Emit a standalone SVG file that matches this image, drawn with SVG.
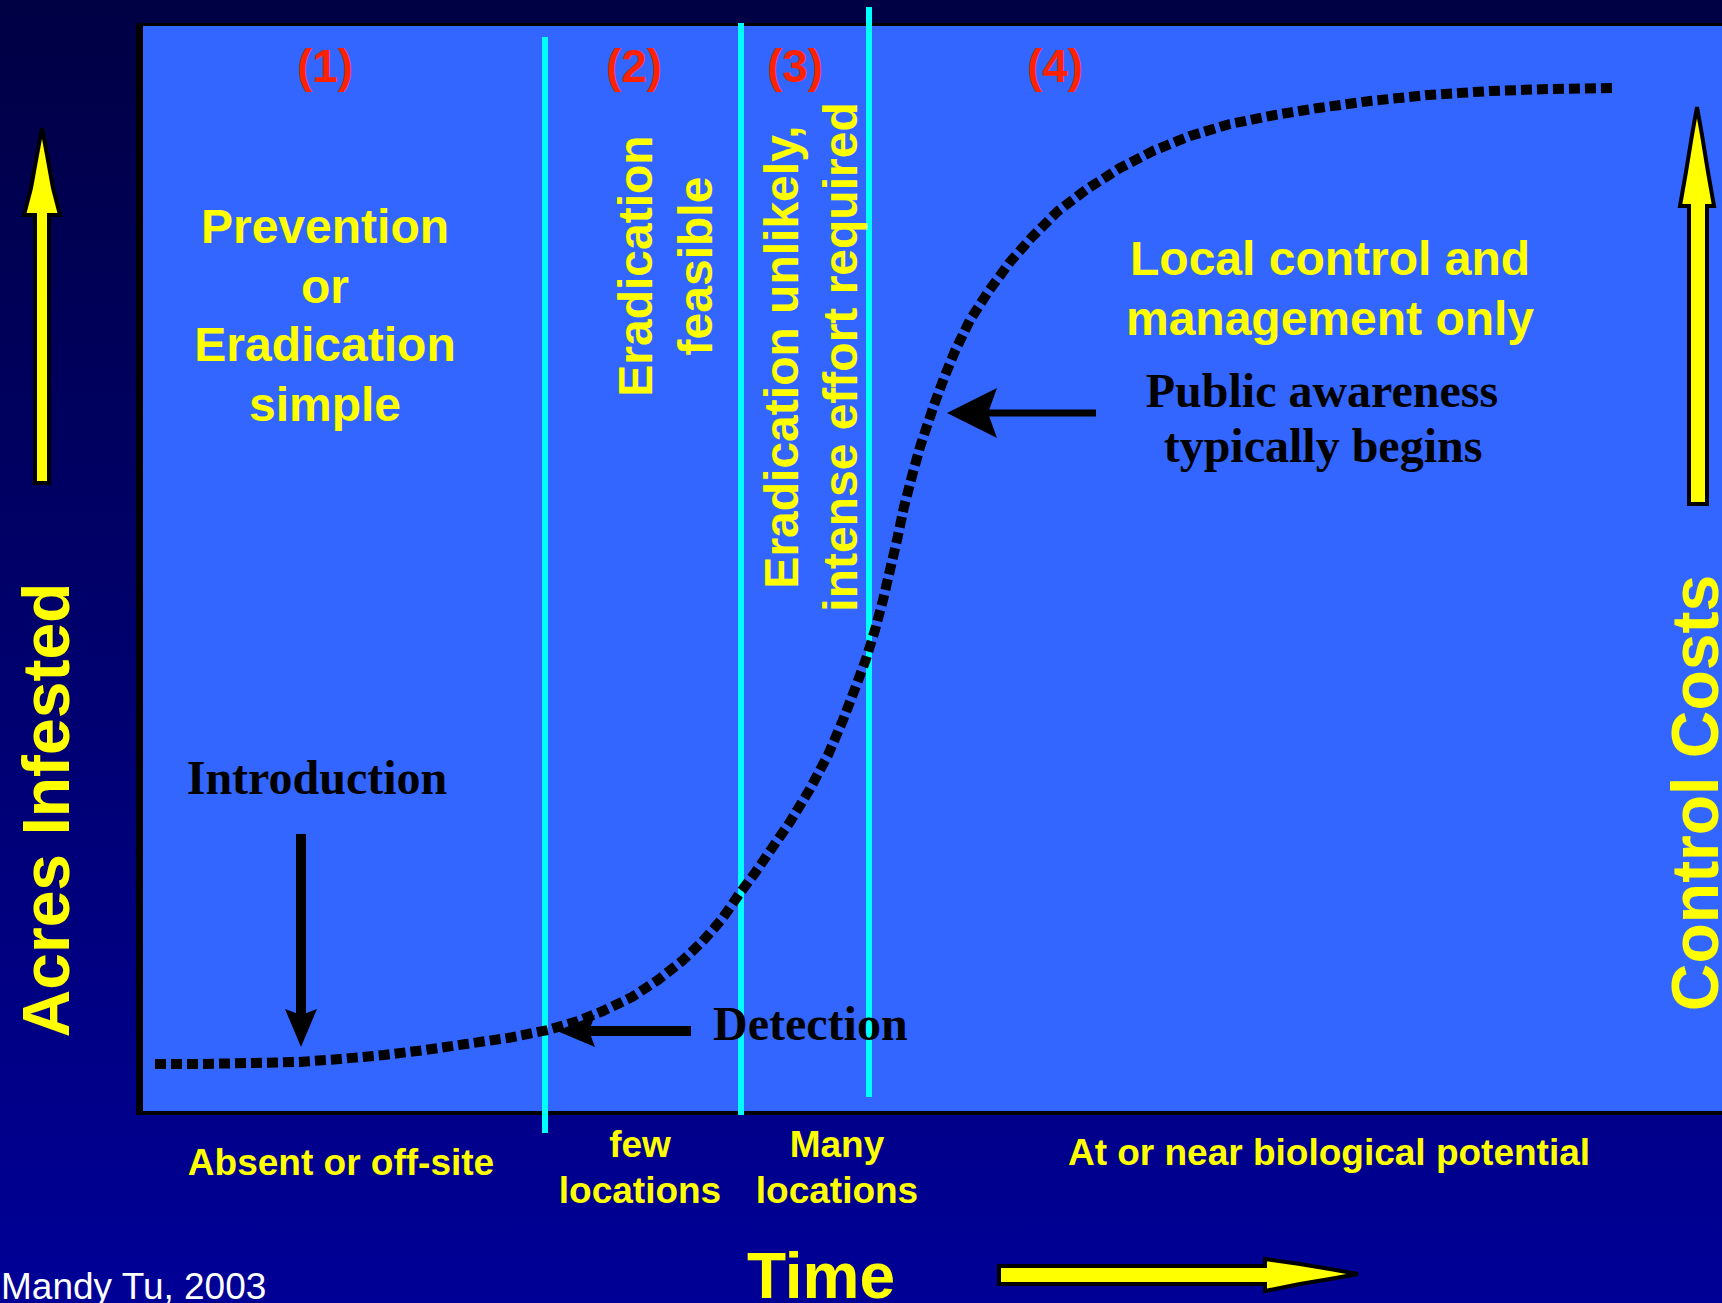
<svg xmlns="http://www.w3.org/2000/svg" width="1722" height="1303" viewBox="0 0 1722 1303">
<defs>
<linearGradient id="bg" x1="0" y1="0" x2="0" y2="1">
<stop offset="0" stop-color="#000044"/>
<stop offset="1" stop-color="#000096"/>
</linearGradient>
<marker id="ah" markerUnits="userSpaceOnUse" viewBox="0 0 38 32" markerWidth="38" markerHeight="32" refX="6" refY="16" orient="auto">
<path d="M38,16 L0,0 L6,16 L0,32 Z" fill="#000"/>
</marker>
<marker id="ahL" markerUnits="userSpaceOnUse" viewBox="0 0 50 50" markerWidth="50" markerHeight="50" refX="9" refY="25" orient="auto">
<path d="M50,25 L0,0 L9,25 L0,50 Z" fill="#000"/>
</marker>
<style>
.y{fill:#FFFF00;font-family:"Liberation Sans",Arial,sans-serif;font-weight:bold}
.num{fill:#FF2200;font-family:"Liberation Sans",Arial,sans-serif;font-weight:bold;font-size:46px;text-anchor:middle}
.blk{fill:#000;font-family:"Liberation Serif","Times New Roman",serif;font-weight:bold;font-size:48px}
.c{text-anchor:middle}
.cy{stroke:#00FFFF;stroke-width:6}
.yarrow{fill:#FFFF00;stroke:#000;stroke-width:4;stroke-linejoin:miter}
.conn{stroke:#000;fill:none}
</style>
</defs>

<rect x="0" y="0" width="1722" height="1303" fill="url(#bg)"/>

<g id="plot">
<rect x="136" y="23" width="1600" height="1092" fill="#000"/>
<rect x="143" y="26" width="1590" height="1085" fill="#3366FF"/>
</g>

<g id="phase-lines">
<line class="cy" x1="545" y1="37" x2="545" y2="1133"/>
<line class="cy" x1="741" y1="23" x2="741" y2="1115"/>
<line class="cy" x1="869" y1="7" x2="869" y2="1097"/>
</g>

<g id="phase-labels">
<text class="num" x="325" y="82">(1)</text>
<text class="num" x="634" y="82">(2)</text>
<text class="num" x="795" y="82">(3)</text>
<text class="num" x="1055" y="82">(4)</text>
</g>

<g id="phase1-text" class="y c" font-size="48">
<text x="325" y="243">Prevention</text>
<text x="325" y="303">or</text>
<text x="325" y="361">Eradication</text>
<text x="325" y="421">simple</text>
</g>

<g id="phase2-text" class="y c" font-size="48">
<text transform="translate(652,266) rotate(-90)">Eradication</text>
<text transform="translate(712,266) rotate(-90)">feasible</text>
</g>

<g id="phase3-text" class="y c" font-size="48">
<text transform="translate(798,357) rotate(-90)">Eradication unlikely,</text>
<text transform="translate(857,357) rotate(-90)">intense effort required</text>
</g>

<g id="phase4-text" class="y c" font-size="48">
<text x="1330" y="275">Local control and</text>
<text x="1330" y="335">management only</text>
</g>

<g id="curve">
<polyline fill="none" stroke="#000" stroke-width="10" stroke-dasharray="11 5" stroke-linejoin="round" points="155,1064 200,1064 250,1063 299,1062 340,1059 384,1055 425,1050 466,1044 508,1038 548,1030 578,1021 603,1011 632,997 658,980 682,961 702,942 722,919 740,893 755,873 770,851 790,822 810,789 828,755 843,720 856,686 866,659 875,630 883,600 890,570 897,540 904,507 912,476 920,447 927,426 934,405 944,378 955,351 970,320 988,292 1010,262 1032,237 1058,211 1087,189 1120,168 1153,151 1190,136 1230,124 1275,115 1318,108 1370,101 1428,95 1490,91 1550,89 1612,88"/>
</g>

<g id="connectors">
<path class="conn" d="M301,834 L301,1015" stroke-width="10" marker-end="url(#ah)"/>
<path class="conn" d="M691,1031 L589,1031" stroke-width="10" marker-end="url(#ah)"/>
<path class="conn" d="M1096,413 L988,413" stroke-width="7" marker-end="url(#ahL)"/>
</g>

<g id="introduction">
<text class="blk c" x="317" y="794">Introduction</text>
</g>
<g id="detection">
<text class="blk" x="713" y="1040">Detection</text>
</g>
<g id="public-awareness" class="blk c">
<text x="1322" y="407">Public awareness</text>
<text x="1323" y="462">typically begins</text>
</g>

<g id="acres-axis">
<path class="yarrow" d="M42,128 L47,155 L53,188 L60,215 L49,215 L49,483 L35,483 L35,215 L24,215 L31,188 L37,155 Z"/>
<text class="y c" font-size="66" transform="translate(69,810) rotate(-90)">Acres Infested</text>
</g>

<g id="cost-axis">
<path class="yarrow" d="M1697,107 L1702,135 L1708,172 L1714,206 L1707,206 L1707,504 L1689,504 L1689,206 L1680,206 L1686,172 L1692,135 Z"/>
<text class="y c" font-size="66" transform="translate(1718,793) rotate(-90)">Control Costs</text>
</g>

<g id="time-axis">
<path class="yarrow" d="M999,1266 L1265,1266 L1265,1259 L1300,1264 L1330,1269 L1358,1274 L1330,1279 L1300,1284 L1265,1291 L1265,1284 L999,1284 Z"/>
<text class="y c" font-size="64" x="821" y="1298">Time</text>
</g>

<g id="bottom-labels" class="y c" font-size="37">
<text x="341" y="1175">Absent or off-site</text>
<text x="640" y="1157">few</text>
<text x="640" y="1203">locations</text>
<text x="837" y="1157">Many</text>
<text x="837" y="1203">locations</text>
<text x="1329" y="1165">At or near biological potential</text>
</g>

<g id="credit">
<text x="1" y="1299" font-family="Liberation Sans, Arial, sans-serif" font-size="37" fill="#FFFFFF">Mandy Tu, 2003</text>
</g>
</svg>
